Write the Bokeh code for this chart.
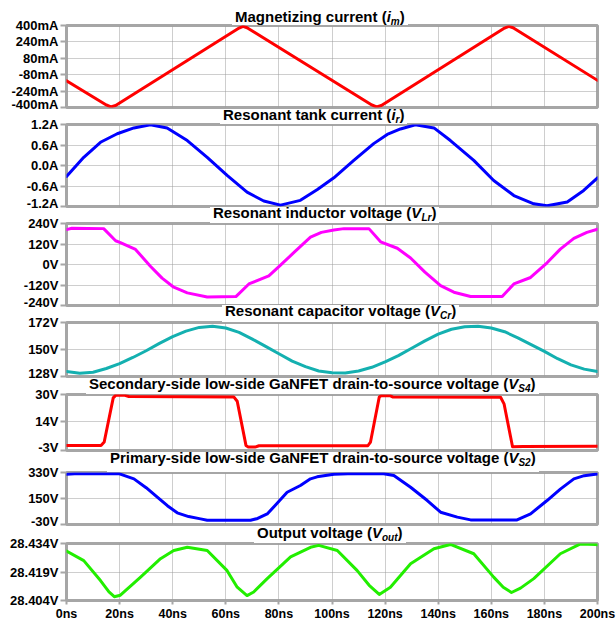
from bokeh.plotting import figure
from bokeh.models import Range1d, FixedTicker, PrintfTickFormatter, Div
from bokeh.layouts import column
from bokeh.embed import file_html
from bokeh.resources import INLINE

# ---------------- data ----------------
x_ticks = [0, 20, 40, 60, 80, 100, 120, 140, 160, 180, 200]

# Magnetizing current (mA)
t_im = [0, 15, 16.7, 18.5, 65, 66.5, 68, 115, 116.8, 118.6, 165, 166.6, 168.2, 200]
im_mA = [-140, -375, -395, -380, 375, 392, 378, -375, -395, -380, 375, 392, 378, -135]
im_ticks = [-400, -240, -80, 80, 240, 400]

# Resonant tank current (A)
t_ir = [0, 6.5, 12.8, 19.1, 25.4, 31.6, 37.9, 45.5, 53.0, 60.5, 68.0, 74.3, 80.6, 88.1,
        94.5, 100.7, 108.2, 115.7, 120.8, 125.8, 131.4, 138.4, 144.6, 153.4, 160.9, 168.5,
        176.0, 181.0, 188.6, 194.8, 200]
ir_A = [-0.32, 0.24, 0.68, 0.93, 1.10, 1.19, 1.10, 0.73, 0.24, -0.29, -0.78, -1.04, -1.16, -1.02,
        -0.70, -0.36, 0.15, 0.64, 0.91, 1.07, 1.19, 1.10, 0.73, 0.15, -0.44, -0.88,
        -1.12, -1.18, -1.07, -0.73, -0.36]
ir_ticks = [-1.2, -0.6, 0.0, 0.6, 1.2]

# Resonant inductor voltage (V)
t_vlr = [0, 2, 14, 18.5, 20.3, 26, 31.6, 36, 40.4, 45.5, 53, 63.8, 68.7, 76.2, 80, 86, 91.9,
         96, 100.7, 104.5, 113.9, 118.3, 124.6, 129.6, 135, 140.9, 145.9, 152.2, 164.1, 168.5,
         174.8, 181, 186, 191.1, 196, 200]
vlr_V = [204, 212, 210, 139, 128, 88, -10, -80, -133, -166, -190, -188, -114, -67, -12, 75, 160,
         188, 202, 210, 210, 133, 95, 38, -45, -124, -162, -187, -187, -114,
         -76, 10, 90, 153, 188, 206]
vlr_ticks = [-240, -120, 0, 120, 240]

# Resonant capacitor voltage (V)
t_vcr = [0, 5, 10, 15, 20, 25, 30, 35, 40, 45, 50, 55, 60, 65, 70, 75, 80, 85, 90, 95, 100,
         105, 110, 115, 120, 125, 130, 135, 140, 145, 150, 155, 160, 165, 170, 175, 180, 185,
         190, 195, 200]
vcr_V = [132.0, 130.6, 131.5, 134.5, 138.5, 143.5, 149.0, 155.0, 160.5, 165.0, 168.0, 169.0,
         167.5, 164.0, 158.5, 152.5, 146.5, 140.5, 136.0, 132.5, 131.0, 130.8, 132.5, 135.5,
         140.0, 145.0, 151.0, 157.0, 162.5, 166.5, 168.5, 169.0, 167.5, 164.5, 159.5, 154.0,
         148.5, 142.5, 137.5, 134.0, 132.0]
vcr_ticks = [128, 150, 172]

# Secondary-side low-side GaNFET drain-to-source voltage (V)
t_vs4 = [0, 13.0, 14.2, 17.6, 18.5, 22.0, 23.5, 63.0, 64.3, 67.6, 68.5, 71.0, 72.5, 113.5,
         114.5, 117.8, 118.5, 122.0, 123.0, 163.5, 164.8, 168.0, 172.0, 200]
vs4_V = [0.0, 0.0, 2.0, 28.0, 29.5, 29.5, 28.8, 28.6, 26.0, 0.0, -1.0, -1.0, -0.2, -0.2,
         2.0, 28.5, 29.2, 29.2, 28.5, 28.4, 24.5, -0.8, -0.6, -0.5]
vs4_ticks = [-3, 14, 30]

# Primary-side low-side GaNFET drain-to-source voltage (V)
t_vs2 = [0, 3, 19.7, 25.4, 30, 34.2, 38, 41.7, 46, 50.5, 53, 69.3, 72, 75.6, 79, 83.1, 88.1,
         91.9, 94.4, 100.7, 106, 119.5, 123.3, 129.6, 135.9, 140.9, 147.2, 152.2, 169.7,
         174.8, 181, 186, 191.1, 195, 199.2, 200]
vs2_V = [318, 322, 322, 286, 225, 159, 100, 51, 25, 9, -1, -1, 12, 43, 110, 193, 240,
         286, 300, 318, 322, 322, 309, 228, 136, 55, 21, 2, 2,
         44, 136, 215, 286, 308, 318, 319]
vs2_ticks = [-30, 150, 330]

# Output voltage (V)
t_vo = [0, 6.5, 12.8, 16, 18, 20.3, 27.9, 35.4, 40.4, 45.5, 53, 60.5, 64.3, 68, 70.5, 75.6,
        84.4, 91.9, 95, 102, 109.5, 114, 117.8, 122, 129.6, 138.4, 144.6, 153.4, 160.9, 164.5,
        167.6, 171, 176, 186, 193.6, 199.2, 200]
vo_V = [28.4300, 28.4250, 28.4145, 28.4085, 28.4060, 28.4068, 28.4163, 28.4260, 28.4303,
        28.4320, 28.4303, 28.4197, 28.4110, 28.4066, 28.4085, 28.4155, 28.4270, 28.4320,
        28.4330, 28.4303, 28.4197, 28.4120, 28.4072, 28.4110, 28.4233, 28.4312, 28.4335,
        28.4286, 28.4163, 28.4110, 28.4082, 28.4105, 28.4155, 28.4286, 28.4338, 28.4335,
        28.4333]
vo_ticks = [28.404, 28.419, 28.434]

# panel titles: plain part, italic symbol, subscript
title_main = ["Magnetizing current ", "Resonant tank current ", "Resonant inductor voltage ",
              "Resonant capacitor voltage ",
              "Secondary-side low-side GaNFET drain-to-source voltage ",
              "Primary-side low-side GaNFET drain-to-source voltage ", "Output voltage "]
title_sym = ["i", "i", "V", "V", "V", "V", "V"]
title_sub = ["m", "r", "Lr", "Cr", "S4", "S2", "out"]

# ---------------- styling / layout ----------------
FONT = "Liberation Sans"
FRAME_COLOR = "#a6a6a6"
GRID_COLOR = "#9c9c9c"
FRAME_W = 531

# title placement (left x, text baseline y, frame top y) in page pixels
title_pos = [(235, 22, 25), (223, 120, 124), (213, 218, 223), (225, 316, 322),
             (89, 389, 394), (110, 463, 472), (257, 538, 543)]

shared_x = Range1d(0, 200)


def make_panel(t, v, color, yr, yticks, fmt, fh, top_b, bot_b, last=False):
    p = figure(frame_width=FRAME_W, frame_height=fh, x_range=shared_x,
               y_range=Range1d(yr[0], yr[1]), output_backend="svg",
               toolbar_location=None, min_border_left=66, min_border_right=19,
               min_border_top=top_b, min_border_bottom=bot_b,
               background_fill_color="white", border_fill_color="white")
    p.line(t, v, line_color=color, line_width=3, line_join="round", line_cap="round")

    p.outline_line_color = FRAME_COLOR
    p.outline_line_width = 3
    p.outline_line_alpha = 1.0

    p.xgrid.ticker = FixedTicker(ticks=x_ticks)
    p.ygrid.ticker = FixedTicker(ticks=yticks)
    for g in (p.xgrid, p.ygrid):
        g.grid_line_color = GRID_COLOR
        g.grid_line_dash = "1 1"
        g.grid_line_width = 1

    ya = p.yaxis[0]
    ya.ticker = FixedTicker(ticks=yticks)
    ya.formatter = PrintfTickFormatter(format=fmt)
    ya.major_label_text_font = FONT
    ya.major_label_text_font_size = "13px"
    ya.major_label_text_font_style = "bold"
    ya.major_label_text_color = "black"
    ya.major_label_standoff = 2
    ya.major_tick_in = 0
    ya.major_tick_out = 6
    ya.major_tick_line_color = FRAME_COLOR
    ya.major_tick_line_width = 2
    ya.minor_tick_line_color = None
    ya.axis_line_color = None

    xa = p.xaxis[0]
    if last:
        xa.ticker = FixedTicker(ticks=x_ticks)
        xa.formatter = PrintfTickFormatter(format="%dns")
        xa.major_label_text_font = FONT
        xa.major_label_text_font_size = "12.5px"
        xa.major_label_text_font_style = "bold"
        xa.major_label_text_color = "black"
        xa.major_label_standoff = 2
        xa.major_tick_in = 0
        xa.major_tick_out = 4
        xa.major_tick_line_color = FRAME_COLOR
        xa.major_tick_line_width = 2
        xa.minor_tick_line_color = None
        xa.axis_line_color = None
    else:
        xa.visible = False
    return p


p1 = make_panel(t_im, im_mA, "#ff0000", (-400, 400), im_ticks, "%dmA", 82, 25, 4)
p2 = make_panel(t_ir, ir_A, "#0000ff", (-1.2, 1.2), ir_ticks, "%.1fA", 82, 13, 4)
p3 = make_panel(t_vlr, vlr_V, "#ff00ff", (-240, 240), vlr_ticks, "%dV", 82, 13, 4)
p4 = make_panel(t_vcr, vcr_V, "#14b0b0", (128, 172), vcr_ticks, "%dV", 54, 13, 4)
p5 = make_panel(t_vs4, vs4_V, "#ff0000", (-3, 30), vs4_ticks, "%dV", 56, 14, 4)
p6 = make_panel(t_vs2, vs2_V, "#0000ff", (-30, 330), vs2_ticks, "%dV", 52, 18, 4)
p7 = make_panel(t_vo, vo_V, "#22ee00", (28.404, 28.434), vo_ticks, "%.3fV", 57, 15, 21, last=True)

# titles as an HTML overlay (real text with italic symbol and subscript)
pieces = []
for main, sym, sub, (lx, base, ftop) in zip(title_main, title_sym, title_sub, title_pos):
    pb = max(ftop - base - 1, 0)
    pieces.append(
        f'<div style="position:absolute; left:{lx - 3}px; top:{base - 11}px; '
        f'padding:0 3px {pb}px 3px; height:12px; box-sizing:content-box; '
        f'background:#ffffff; white-space:nowrap; '
        f"font-family:'{FONT}', Arial, sans-serif; font-weight:bold; font-size:15px; "
        f'line-height:12px; color:#000000;">{main}(<i>{sym}<span style="font-size:10px; '
        f'position:relative; top:3px;">{sub}</span></i>)</div>')
overlay_html = ('<div style="position:absolute; top:0px; left:0px; width:616px; height:0px; '
                'overflow:visible; margin:0; padding:0;">' + "".join(pieces) + '</div>')
titles_div = Div(text=overlay_html, width=616, height=0, margin=0,
                 styles={"z-index": "10", "overflow": "visible", "height": "0px",
                         "margin": "0px", "padding": "0px"})

layout = column(titles_div, p1, p2, p3, p4, p5, p6, p7, spacing=0)

open("out.html", "w").write(file_html(layout, INLINE))
